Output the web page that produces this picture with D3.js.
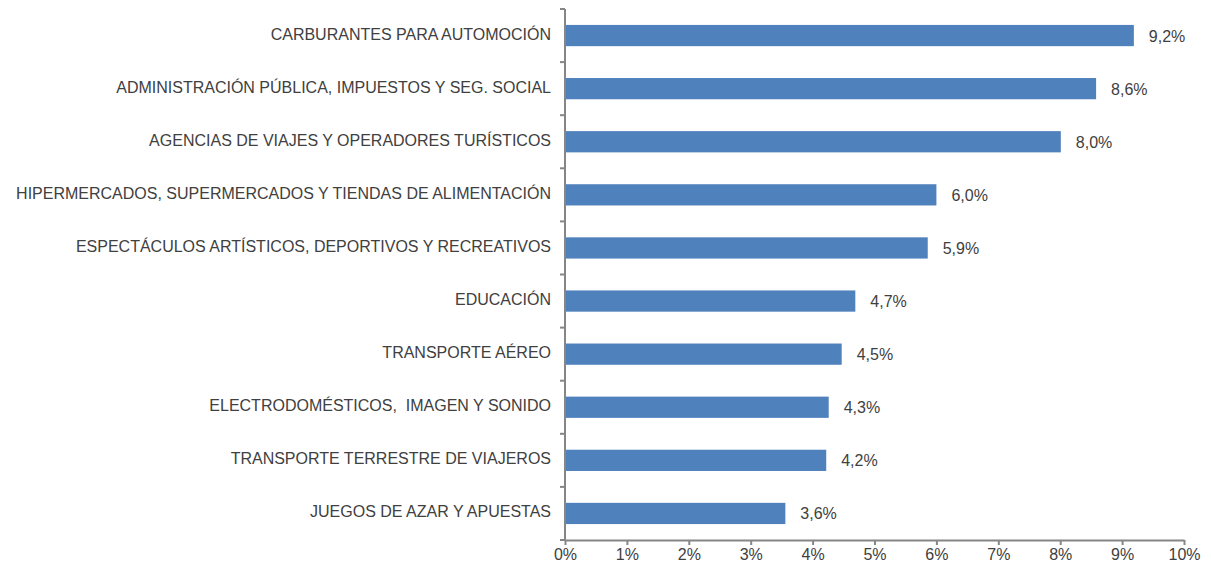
<!DOCTYPE html>
<html>
  <head>
    <meta charset="utf-8">
    <title>Gasto por sector</title>
    <script src="https://d3js.org/d3.v7.min.js"></script>
    <style>
      body { margin: 0; background: #fff; }
      svg text { font-family: "Liberation Sans", Arial, sans-serif; fill: #404040; white-space: pre; }
    </style>
  </head>
  <body>
    <div id="chart"></div>
    <script>
      // chart data
      const categories = [
        "CARBURANTES PARA AUTOMOCIÓN",
        "ADMINISTRACIÓN PÚBLICA, IMPUESTOS Y SEG. SOCIAL",
        "AGENCIAS DE VIAJES Y OPERADORES TURÍSTICOS",
        "HIPERMERCADOS, SUPERMERCADOS Y TIENDAS DE ALIMENTACIÓN",
        "ESPECTÁCULOS ARTÍSTICOS, DEPORTIVOS Y RECREATIVOS",
        "EDUCACIÓN",
        "TRANSPORTE AÉREO",
        "ELECTRODOMÉSTICOS,  IMAGEN Y SONIDO",
        "TRANSPORTE TERRESTRE DE VIAJEROS",
        "JUEGOS DE AZAR Y APUESTAS"
      ];
      const values = [9.19, 8.58, 8.01, 6.0, 5.86, 4.69, 4.47, 4.26, 4.22, 3.56];
      const xTicks = [0, 1, 2, 3, 4, 5, 6, 7, 8, 9, 10];

      const width = 1211, height = 568;
      const margin = { top: 9, right: 27, bottom: 28, left: 565 };

      const svg = d3.select("#chart")
        .append("svg")
        .attr("width", width)
        .attr("height", height);

      const x = d3.scaleLinear()
        .domain([0, 10])
        .range([margin.left, width - margin.right]);
      const y = d3.scaleBand()
        .domain(categories)
        .range([margin.top, height - margin.bottom])
        .paddingInner(0.6)
        .paddingOuter(0.3);

      // bars
      svg.selectAll(".bar")
        .data(values)
        .enter().append("rect")
          .attr("class", "bar")
          .attr("x", x(0))
          .attr("y", (d, i) => y(categories[i]))
          .attr("width", d => x(d) - x(0))
          .attr("height", y.bandwidth())
          .attr("fill", "#4f81bd");

      // value labels
      svg.selectAll(".val")
        .data(values)
        .enter().append("text")
          .attr("class", "val")
          .attr("x", d => x(d) + 15)
          .attr("y", (d, i) => y(categories[i]) + y.bandwidth() / 2 + 6)
          .style("font-size", "16px")
          .text(d => d.toFixed(1).replace(".", ",") + "%");

      // x axis
      const xAxis = svg.append("g")
        .attr("transform", "translate(0," + (height - margin.bottom) + ")")
        .call(d3.axisBottom(x).tickValues(xTicks).tickFormat(d => d + "%").tickSize(5).tickSizeOuter(0));
      xAxis.select(".domain").attr("stroke", "#868686").attr("stroke-width", 2);
      xAxis.selectAll(".tick line").attr("stroke", "#868686").attr("stroke-width", 2);
      xAxis.selectAll(".tick text")
        .attr("dy", "0.75em")
        .style("font-size", "16px")
        .style("font-family", "'Liberation Sans', Arial, sans-serif")
        .attr("fill", "#404040");

      // y axis: ticks sit between categories
      const step = (height - margin.bottom - margin.top) / categories.length;
      const yAxis = svg.append("g");
      yAxis.append("line")
        .attr("x1", x(0)).attr("x2", x(0))
        .attr("y1", margin.top).attr("y2", height - margin.bottom)
        .attr("stroke", "#868686").attr("stroke-width", 2);
      yAxis.selectAll(".ytick")
        .data(d3.range(categories.length + 1))
        .enter().append("line")
          .attr("x1", x(0) - 5).attr("x2", x(0))
          .attr("y1", i => margin.top + i * step)
          .attr("y2", i => margin.top + i * step)
          .attr("stroke", "#868686").attr("stroke-width", 2);
      yAxis.selectAll(".cat")
        .data(categories)
        .enter().append("text")
          .attr("x", x(0) - 14)
          .attr("y", d => y(d) + y.bandwidth() / 2 + 4)
          .attr("text-anchor", "end")
          .style("font-size", "16px")
          .text(d => d);
    </script>
  </body>
</html>
